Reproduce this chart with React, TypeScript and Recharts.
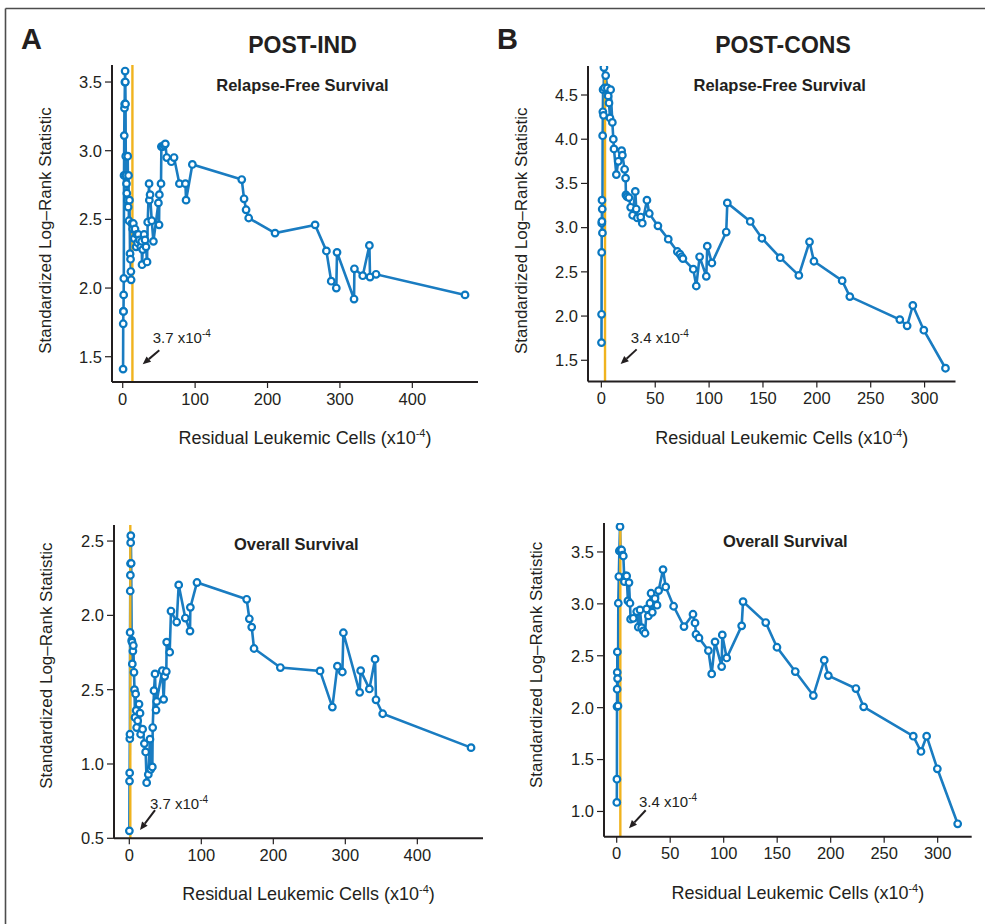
import React from "react";
import {
  LineChart,
  Line,
  XAxis,
  YAxis,
  ReferenceLine,
  ReferenceDot,
  Label,
} from "recharts";

type Pt = [number, number];

// cutoff scans: [residual cells x10^-4, standardized log-rank statistic]
const rfsInd: Pt[] = [
  [0.5, 1.41], [0.7, 1.74], [0.9, 1.83], [1.1, 1.83], [1.3, 1.95], [1.5, 2.07],
  [1.8, 2.82], [2.1, 3.11], [2.4, 3.31], [2.7, 3.34], [3.0, 3.5], [3.3, 3.58],
  [3.6, 3.5], [3.9, 3.34], [4.2, 2.96], [4.6, 2.82], [5.2, 2.76], [5.7, 2.69],
  [6.4, 2.64], [6.9, 2.96], [7.5, 2.59], [8.0, 2.82], [8.6, 2.49], [9.3, 2.64],
  [10.1, 2.25], [10.8, 2.21], [11.3, 2.12], [11.6, 2.06], [12.5, 2.47], [13.8, 2.43],
  [14.7, 2.47], [16, 2.36], [17, 2.43], [18.5, 2.3], [19.3, 2.39], [20.5, 2.33],
  [21.6, 2.39], [23, 2.35], [24.9, 2.3], [26.2, 2.34], [26.7, 2.17], [27.6, 2.28],
  [29.5, 2.39], [30.8, 2.35], [32.2, 2.3], [33.6, 2.19], [34.5, 2.48], [36.4, 2.76],
  [36.8, 2.64], [37.8, 2.68], [40.1, 2.49], [42.4, 2.34], [49.3, 2.62], [50.2, 2.46],
  [50.6, 2.68], [52.9, 2.76], [53.4, 3.03], [55.2, 3.03], [57.1, 3.04], [58.9, 3.05],
  [60.8, 2.95], [67.2, 2.92], [70.9, 2.95], [78.3, 2.76], [86.6, 2.76], [87.5, 2.64],
  [96.2, 2.9], [164.4, 2.79], [167.6, 2.65], [170.4, 2.57], [174, 2.51], [210.4, 2.4],
  [265.7, 2.46], [281.3, 2.27], [288, 2.05], [295, 2.0], [296, 2.26], [319.5, 1.92],
  [320, 2.14], [331.5, 2.09], [340.7, 2.31], [341.6, 2.08], [349.9, 2.1], [472.8, 1.95],
];

const rfsCons: Pt[] = [
  [0.1, 1.7], [0.2, 2.02], [0.3, 2.72], [0.4, 3.05], [0.5, 3.07], [0.6, 3.31],
  [0.8, 3.21], [1.0, 2.94], [1.2, 4.04], [1.4, 4.31], [1.6, 4.56], [2.0, 4.27],
  [2.4, 4.81], [3.0, 4.58], [4.0, 4.72], [5.5, 4.58], [6.3, 4.49], [7.1, 4.41],
  [8.0, 4.24], [8.6, 4.56], [10.2, 4.19], [11.1, 4.0], [11.7, 3.89], [13.9, 3.6],
  [15.7, 3.75], [18.8, 3.87], [19.5, 3.82], [21.6, 3.66], [22.5, 3.56], [22.8, 3.37],
  [23.8, 3.35], [25.6, 3.34], [27.2, 3.23], [29, 3.14], [31.5, 3.41], [32.4, 3.21],
  [33.4, 3.11], [36.5, 3.12], [38, 3.05], [42.3, 3.31], [44.5, 3.16], [52.5, 3.02],
  [62.1, 2.87], [70.5, 2.73], [72.9, 2.7], [74.5, 2.67], [75.7, 2.65], [85.3, 2.53],
  [88.1, 2.34], [91.2, 2.67], [97.4, 2.45], [98.3, 2.79], [102.6, 2.6], [115.9, 2.95],
  [116.9, 3.28], [138.2, 3.07], [149, 2.88], [166, 2.66], [183.3, 2.46], [193.2, 2.84],
  [197.3, 2.62], [223.5, 2.4], [230.6, 2.22], [277, 1.96], [283.8, 1.89], [289.1, 2.12],
  [299.3, 1.84], [319.4, 1.41],
];

const osInd: Pt[] = [
  [0.1, 0.55], [0.3, 0.885], [0.5, 0.94], [0.7, 1.17], [0.9, 1.2], [1.1, 1.885],
  [1.3, 2.164], [1.5, 2.27], [1.7, 2.349], [1.9, 2.489], [2.1, 2.536], [2.6, 2.35],
  [3.3, 1.831], [3.8, 1.82], [4.2, 1.673], [5.0, 1.76], [5.6, 1.797], [6.5, 1.617],
  [7.2, 1.5], [7.9, 1.313], [8.8, 1.471], [9.5, 1.36], [10.2, 1.245], [11.6, 1.291],
  [13.5, 1.403], [14.9, 1.342], [15.7, 1.2], [18.5, 1.234], [20.9, 1.137], [22.7, 1.081],
  [24.1, 0.874], [26.4, 0.93], [28.7, 1.167], [29.7, 0.964], [32, 0.98], [32.5, 1.245],
  [34.3, 1.493], [35.7, 1.606], [37.1, 1.363], [38, 1.421], [45.8, 1.628], [47.7, 1.435],
  [49.1, 1.59], [51.4, 1.622], [51.9, 1.82], [56.1, 1.752], [57.9, 2.029], [65.8, 1.955],
  [68.6, 2.205], [77.8, 1.982], [84.3, 1.894], [84.8, 2.054], [94, 2.221], [163, 2.108],
  [166.7, 1.977], [170, 1.921], [173.2, 1.777], [209.8, 1.649], [264.9, 1.626], [282, 1.383],
  [289, 1.658], [295.9, 1.619], [297.3, 1.883], [319.9, 1.482], [321.3, 1.628], [333.4, 1.505],
  [341.3, 1.705], [342.6, 1.432], [351.9, 1.338], [474.6, 1.11],
];

const osCons: Pt[] = [
  [0.1, 1.087], [0.2, 1.311], [0.3, 2.011], [0.4, 2.178], [0.5, 2.34], [0.6, 2.537],
  [0.8, 2.28], [1.2, 2.017], [1.5, 3.006], [2.0, 3.263], [2.5, 3.51], [3.1, 3.744],
  [3.6, 3.52], [4.6, 3.519], [5.5, 3.47], [6.2, 3.461], [7.2, 3.214], [8.3, 3.27],
  [9.3, 3.269], [10.5, 3.028], [11.5, 3.205], [12.4, 3.006], [13, 2.852], [15.5, 2.861],
  [18.7, 2.926], [20.2, 2.775], [21.8, 2.942], [23.3, 2.771], [24.9, 2.739], [26.5, 2.717],
  [28, 2.951], [29.6, 2.884], [31.1, 3.006], [32.1, 3.102], [33.3, 2.919], [35.8, 3.051],
  [37.7, 2.987], [39.2, 3.128], [43.3, 3.33], [45.8, 3.163], [53.2, 2.977], [62.9, 2.781],
  [71.3, 2.9], [73.2, 2.816], [74.1, 2.707], [76.9, 2.672], [85.7, 2.55], [88.8, 2.325],
  [91.9, 2.634], [98.1, 2.396], [98.7, 2.701], [102.8, 2.479], [116.8, 2.788], [118.1, 3.022],
  [139.3, 2.82], [149.8, 2.582], [166.9, 2.348], [183.8, 2.117], [194, 2.457], [197.8, 2.309],
  [223.6, 2.184], [230.8, 2.008], [277.2, 1.725], [284.4, 1.578], [289.7, 1.725], [299.7, 1.411],
  [318.7, 0.881],
];

const xTicksInd = [0, 100, 200, 300, 400];
const xTicksCons = [0, 50, 100, 150, 200, 250, 300];
const yTicksRfsInd = [1.5, 2, 2.5, 3, 3.5];
const yTicksRfsCons = [1.5, 2, 2.5, 3, 3.5, 4, 4.5];
const yTicksOsInd = [0.5, 1, 1.5, 2, 2.5];
const yTicksOsCons = [1, 1.5, 2, 2.5, 3, 3.5];
// the printed original labels its middle OS tick "2.5"; kept as printed
const osIndTickText: Record<string, string> = {
  "0.5": "0.5", "1": "1.0", "1.5": "2.5", "2": "2.0", "2.5": "2.5",
};

const FONT = "'Liberation Sans', Arial, Helvetica, sans-serif";
const INK = "#231f20";
const BLUE = "#1a7cc1";
const GOLD = "#f0b31e";

const YW = 100;
const MT = 8;
const MR = 10;
const XH = 75;

interface PanelProps {
  data: Pt[];
  left: number;
  top: number;
  plotW: number;
  plotH: number;
  xDomain: [number, number];
  yDomain: [number, number];
  xTicks: number[];
  yTicks: number[];
  yFmt?: (v: number) => string;
  cutoff: number;
  cutoffText: string;
  arrowAt: Pt;
  arrowVec: [number, number];
  yLabelDy: number;
}

const XLabel = (props: any) => {
  const vb = props.viewBox || { x: 0, y: 0, width: 0 };
  const x = vb.x + vb.width / 2 + 10;
  const y = vb.y + 62;
  return (
    <text x={x} y={y} textAnchor="middle" fontSize={18} fill={INK} fontFamily={FONT}>
      Residual Leukemic Cells (x10
      <tspan dy={-7} fontSize={11}>-4</tspan>
      <tspan dy={7}>)</tspan>
    </text>
  );
};

const makeYLabel = (dy: number) => (props: any) => {
  const vb = props.viewBox || { x: 0, y: 0, width: 0, height: 0 };
  const cx = vb.x + vb.width - 67;
  const cy = vb.y + vb.height / 2 + dy;
  return (
    <text
      x={cx}
      y={cy}
      transform={`rotate(-90 ${cx} ${cy})`}
      textAnchor="middle"
      dominantBaseline="central"
      fontSize={17}
      fill={INK}
      fontFamily={FONT}
    >
      Standardized Log–Rank Statistic
    </text>
  );
};

const makeArrow = (text: string, vec: [number, number]) => (props: any) => {
  const { cx, cy } = props;
  const [dx, dy] = vec;
  const len = Math.hypot(dx, dy);
  const ux = dx / len;
  const uy = dy / len;
  const bx = cx + ux * 8;
  const by = cy + uy * 8;
  const head = `${cx},${cy} ${bx - uy * 3.5},${by + ux * 3.5} ${bx + uy * 3.5},${by - ux * 3.5}`;
  return (
    <g>
      <line x1={cx + dx} y1={cy + dy} x2={bx} y2={by} stroke={INK} strokeWidth={2} />
      <polygon points={head} fill={INK} />
      <text x={cx + 10} y={cy - 21} fontSize={15} fill={INK} fontFamily={FONT}>
        {text} x10
        <tspan dy={-6} fontSize={10}>-4</tspan>
      </text>
    </g>
  );
};

const Panel: React.FC<PanelProps> = (p) => {
  const rows = p.data.map(([x, y]) => ({ x, y }));
  const width = YW + p.plotW + MR;
  const height = MT + p.plotH + XH;
  const fmt = p.yFmt || ((v: number) => v.toFixed(1));
  return (
    <div style={{ position: "absolute", left: p.left - YW, top: p.top - MT }}>
      <LineChart width={width} height={height} data={rows} margin={{ top: MT, right: MR, left: 0, bottom: 0 }}>
        <XAxis
          type="number"
          dataKey="x"
          domain={p.xDomain}
          ticks={p.xTicks}
          allowDataOverflow
          interval={0}
          height={XH}
          tickSize={6}
          tickMargin={5}
          axisLine={{ stroke: INK, strokeWidth: 2 }}
          tickLine={{ stroke: INK, strokeWidth: 1.2 }}
          tick={{ fill: INK, fontSize: 16.5, fontFamily: FONT }}
        >
          <Label content={XLabel} />
        </XAxis>
        <YAxis
          type="number"
          dataKey="y"
          domain={p.yDomain}
          ticks={p.yTicks}
          allowDataOverflow
          interval={0}
          width={YW}
          tickSize={7}
          tickMargin={3}
          tickFormatter={fmt}
          axisLine={{ stroke: INK, strokeWidth: 2 }}
          tickLine={{ stroke: INK, strokeWidth: 1.2 }}
          tick={{ fill: INK, fontSize: 16.5, fontFamily: FONT }}
        >
          <Label content={makeYLabel(p.yLabelDy)} />
        </YAxis>
        <Line
          type="linear"
          dataKey="y"
          stroke={BLUE}
          strokeWidth={2.6}
          dot={{ r: 3.3, stroke: "#0a78c0", strokeWidth: 2.2, fill: "#ffffff" }}
          activeDot={false}
          isAnimationActive={false}
        />
        <ReferenceLine x={p.cutoff} stroke={GOLD} strokeWidth={2.4} />
        <ReferenceDot
          x={p.arrowAt[0]}
          y={p.arrowAt[1]}
          r={0}
          ifOverflow="visible"
          shape={makeArrow(p.cutoffText, p.arrowVec)}
        />
      </LineChart>
    </div>
  );
};

const headStyle = { fontFamily: FONT, fontWeight: 700, fill: INK } as const;

export default function App() {
  return (
    <div style={{ position: "absolute", left: 0, top: 0, width: 985, height: 924, background: "#fff" }}>
      <svg width={985} height={924} style={{ position: "absolute", left: 0, top: 0 }}>
        <line x1={5.5} y1={8.5} x2={985} y2={8.5} stroke="#4d4d4d" strokeWidth={1.6} />
        <line x1={5.5} y1={8.5} x2={5.5} y2={924} stroke="#4d4d4d" strokeWidth={1.6} />
        <text x={21} y={49} fontSize={29} {...headStyle}>A</text>
        <text x={302.5} y={53} fontSize={23} textAnchor="middle" {...headStyle}>POST-IND</text>
        <text x={497} y={49} fontSize={29} {...headStyle}>B</text>
        <text x={783} y={53} fontSize={23} textAnchor="middle" {...headStyle}>POST-CONS</text>
        <text x={302.5} y={90.5} fontSize={16.5} textAnchor="middle" {...headStyle}>Relapse-Free Survival</text>
        <text x={779.7} y={90.5} fontSize={16.5} textAnchor="middle" {...headStyle}>Relapse-Free Survival</text>
        <text x={296.3} y={550} fontSize={16.5} textAnchor="middle" {...headStyle}>Overall Survival</text>
        <text x={785.3} y={547.3} fontSize={16.5} textAnchor="middle" {...headStyle}>Overall Survival</text>
      </svg>

      <Panel
        data={rfsInd}
        left={112}
        top={65}
        plotW={366}
        plotH={317}
        xDomain={[-14.8, 490.7]}
        yDomain={[1.316, 3.624]}
        xTicks={xTicksInd}
        yTicks={yTicksRfsInd}
        cutoff={13.4}
        cutoffText="3.7"
        arrowAt={[27.6, 1.445]}
        arrowVec={[16.6, -14]}
        yLabelDy={7}
      />
      <Panel
        data={rfsCons}
        left={587.5}
        top={66}
        plotW={367.5}
        plotH={315.5}
        xDomain={[-12.4, 328.7]}
        yDomain={[1.26, 4.828]}
        xTicks={xTicksCons}
        yTicks={yTicksRfsCons}
        cutoff={3.4}
        cutoffText="3.4"
        arrowAt={[17.9, 1.457]}
        arrowVec={[16, -14.7]}
        yLabelDy={7}
      />
      <Panel
        data={osInd}
        left={114}
        top={525}
        plotW={369}
        plotH={313.3}
        xDomain={[-21.25, 491.2]}
        yDomain={[0.5, 2.608]}
        xTicks={xTicksInd}
        yTicks={yTicksOsInd}
        yFmt={(v) => osIndTickText[String(v)] ?? v.toFixed(1)}
        cutoff={1.4}
        cutoffText="3.7"
        arrowAt={[14.9, 0.555]}
        arrowVec={[15, -20]}
        yLabelDy={-16}
      />
      <Panel
        data={osCons}
        left={604}
        top={523}
        plotW={367.7}
        plotH={313.7}
        xDomain={[-11.87, 331.8]}
        yDomain={[0.757, 3.779]}
        xTicks={xTicksCons}
        yTicks={yTicksOsCons}
        cutoff={3.4}
        cutoffText="3.4"
        arrowAt={[11.5, 0.838]}
        arrowVec={[16.7, -18]}
        yLabelDy={-15}
      />
    </div>
  );
}
